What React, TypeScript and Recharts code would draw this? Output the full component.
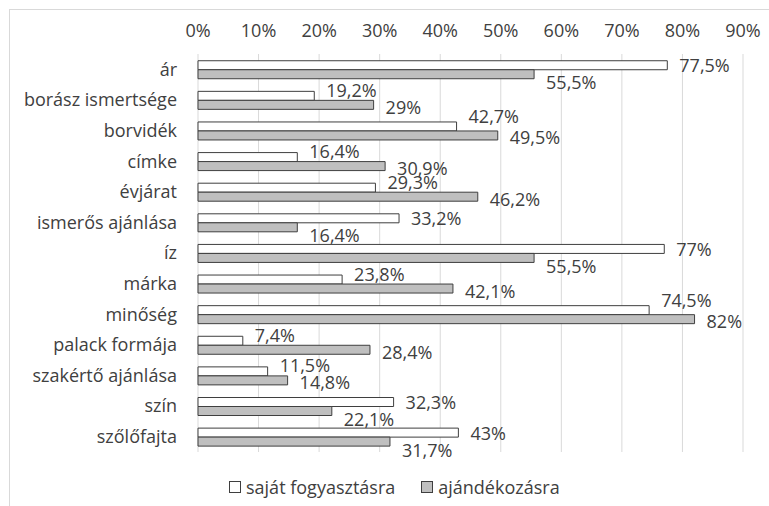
import { BarChart, Bar, XAxis, YAxis, CartesianGrid, LabelList } from 'recharts';

const categories = [
  'ár',
  'borász ismertsége',
  'borvidék',
  'címke',
  'évjárat',
  'ismerős ajánlása',
  'íz',
  'márka',
  'minőség',
  'palack formája',
  'szakértő ajánlása',
  'szín',
  'szőlőfajta',
];
const ownUse = [77.5, 19.2, 42.7, 16.4, 29.3, 33.2, 77, 23.8, 74.5, 7.4, 11.5, 32.3, 43];
const gifting = [55.5, 29, 49.5, 30.9, 46.2, 16.4, 55.5, 42.1, 82, 28.4, 14.8, 22.1, 31.7];
const xTicks = [0, 10, 20, 30, 40, 50, 60, 70, 80, 90];
const seriesNames = ['saját fogyasztásra', 'ajándékozásra'];

const data = categories.map((name, i) => ({ name, own: ownUse[i], gift: gifting[i] }));

const FONT = '"Open Sans", sans-serif';
const FS = 18;
const TEXT = '#404040';
const GRAY = '#bfbfbf';
const EDGE = '#3f3f3f';

const pct = (v: number) => `${String(v).replace('.', ',')}%`;

// Excel nudged the labels apart: the shorter bar's label moves away from the other one
const makeLabel = (series: 'own' | 'gift') => (props: any) => {
  const { x, y, width, height, index } = props;
  const own = ownUse[index];
  const gift = gifting[index];
  const v = series === 'own' ? own : gift;
  let dy = 0;
  if (series === 'own' && own < gift) dy = gift - own > 5 && gift - own < 8 ? -10 : -6;
  if (series === 'gift') dy = gift > own ? 2 : 8;
  return (
    <text
      x={Number(x) + Number(width) + 12}
      y={Number(y) + Number(height) / 2 + dy}
      dominantBaseline="central"
      fontSize={FS}
      fontFamily={FONT}
      fill={TEXT}
    >
      {pct(v)}
    </text>
  );
};

function LegendBox({ color, label }: { color: string; label: string }) {
  return (
    <div style={{ display: 'flex', alignItems: 'center', marginRight: 26 }}>
      <span
        style={{
          display: 'inline-block',
          width: 10,
          height: 10,
          background: color,
          border: `1px solid ${EDGE}`,
          marginRight: 5,
        }}
      />
      <span>{label}</span>
    </div>
  );
}

export default function App() {
  return (
    <div style={{ position: 'absolute', left: 0, top: 0, width: 769, height: 506, background: '#fff', overflow: 'hidden' }}>
      <div
        style={{
          position: 'absolute',
          left: 9,
          top: 9,
          width: 800,
          height: 520,
          borderTop: '1px solid #d9d9d9',
          borderLeft: '1px solid #d9d9d9',
        }}
      />
      <div style={{ position: 'absolute', left: 0, top: 0 }}>
        <BarChart
          width={769}
          height={506}
          data={data}
          layout="vertical"
          margin={{ top: 24, right: 26, bottom: 54, left: 0 }}
          barCategoryGap="22%"
          barGap={0}
          style={{ fontFamily: FONT }}
        >
          <CartesianGrid horizontal={false} stroke="#d9d9d9" />
          <XAxis
            type="number"
            orientation="top"
            domain={[0, 90]}
            ticks={xTicks}
            tickFormatter={(v) => `${v}%`}
            axisLine={false}
            tickLine={false}
            tickSize={0}
            tickMargin={17}
            height={30}
            tick={{ fill: TEXT, fontSize: FS, fontFamily: FONT }}
          />
          <YAxis
            type="category"
            dataKey="name"
            width={198}
            axisLine={false}
            tickLine={false}
            tickSize={0}
            tickMargin={21}
            interval={0}
            tick={{ fill: TEXT, fontSize: FS, fontFamily: FONT }}
          />
          <Bar dataKey="own" name={seriesNames[0]} fill="#ffffff" stroke={EDGE} strokeWidth={1} isAnimationActive={false}>
            <LabelList dataKey="own" content={makeLabel('own')} />
          </Bar>
          <Bar dataKey="gift" name={seriesNames[1]} fill={GRAY} stroke={EDGE} strokeWidth={1} isAnimationActive={false}>
            <LabelList dataKey="gift" content={makeLabel('gift')} />
          </Bar>
        </BarChart>
      </div>
      <div
        style={{
          position: 'absolute',
          left: 229,
          top: 475,
          display: 'flex',
          fontFamily: FONT,
          fontSize: FS,
          color: TEXT,
          lineHeight: '24px',
        }}
      >
        <LegendBox color="#ffffff" label={seriesNames[0]} />
        <LegendBox color={GRAY} label={seriesNames[1]} />
      </div>
    </div>
  );
}
